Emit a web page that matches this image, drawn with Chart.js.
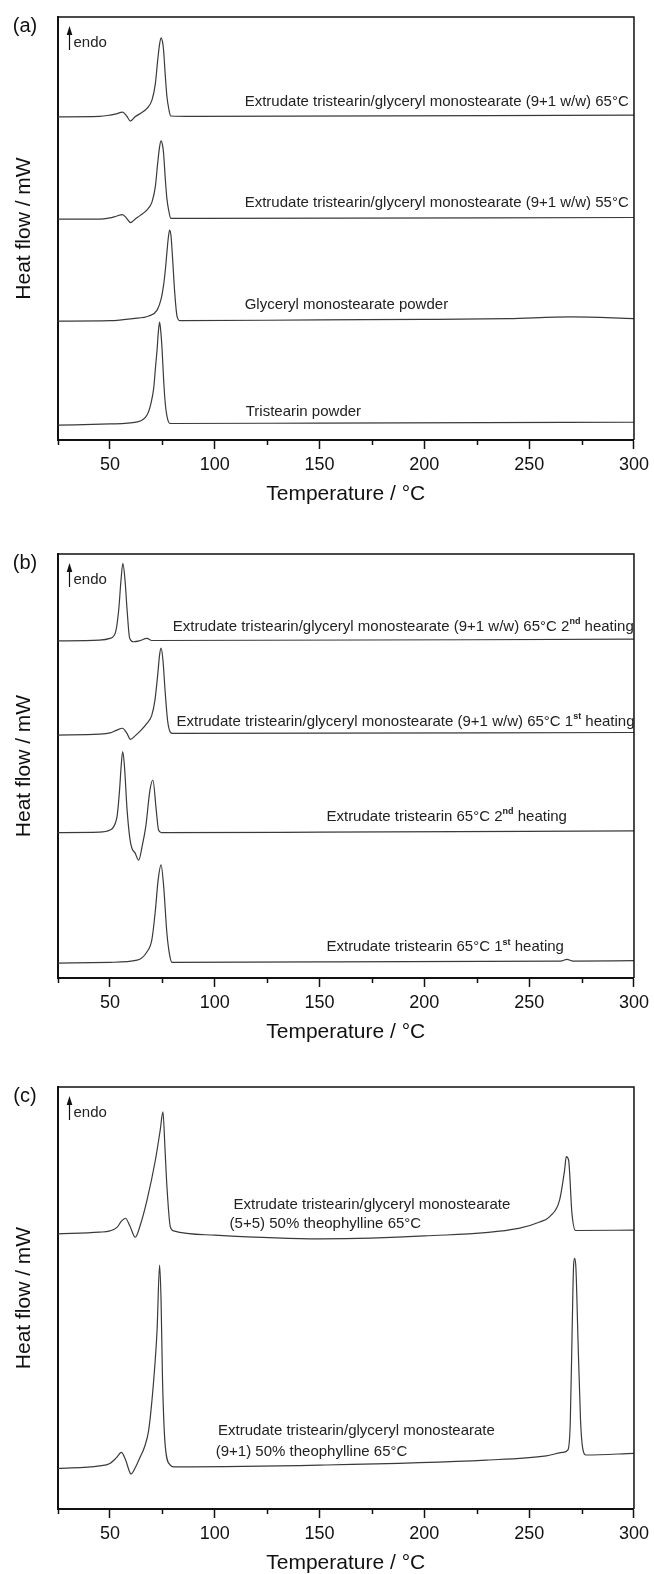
<!DOCTYPE html>
<html>
<head>
<meta charset="utf-8">
<script src="https://cdn.jsdelivr.net/npm/chart.js@4.4.1/dist/chart.umd.min.js"></script>
<style>
  body { margin: 0; background: #fff; }
  #page { position: relative; width: 654px; height: 1574px; overflow: hidden; background: #fff; }
  canvas { position: absolute; left: 0; }
</style>
</head>
<body>
<div id="page">
  <canvas id="chartA" width="654" height="520" style="top:0px"></canvas>
  <canvas id="chartB" width="654" height="521" style="top:537px"></canvas>
  <canvas id="chartC" width="654" height="519" style="top:1070px"></canvas>
</div>
<script>
// tick values (°C)
var tempTicks = [50, 100, 150, 200, 250, 300];
var minorTemps = [25, 75, 125, 175, 225, 275];

// (a) DSC curves, heat flow in arbitrary units
var a1Temp = [25, 45, 50, 53, 56, 58, 59.8, 62, 64.5, 67.7, 70.1, 71.7, 72.8, 73.7, 74.4, 75.1, 75.6, 76.4, 77.2, 78.2, 79, 90, 300];
var a1Flow = [76.4, 76.5, 76.8, 77.1, 77.5, 76.6, 75.4, 76.4, 77.2, 78.4, 80.4, 84.3, 89.8, 93.6, 95.1, 94.1, 92.2, 86.3, 81.2, 78.0, 76.6, 76.5, 76.8];
var a2Temp = [25, 45, 50, 53, 56, 58, 59.8, 62, 64.5, 67.7, 70.1, 71.7, 72.8, 73.7, 74.4, 75.1, 75.6, 76.4, 77.2, 78.2, 79, 90, 300];
var a2Flow = [52.2, 52.2, 52.5, 52.9, 53.3, 52.4, 51.4, 52.2, 53.1, 54.4, 56.3, 60.0, 65.5, 69.3, 70.7, 69.7, 67.8, 61.9, 57.0, 53.9, 52.4, 52.4, 52.6];
var a3Temp = [25, 50, 61, 68.5, 72.5, 74.5, 75.6, 76.5, 77.2, 77.9, 78.5, 79.2, 79.8, 81, 82, 83.5, 150, 200, 240, 270, 300];
var a3Flow = [28.1, 28.2, 28.7, 29.3, 30.7, 33.5, 36.6, 40.5, 44.4, 48.0, 49.6, 48.0, 43.7, 34.3, 29.3, 28.2, 28.4, 28.5, 28.7, 29.1, 28.7];
var a4Temp = [25, 50, 63, 67.7, 69.5, 70.9, 71.8, 72.5, 73.1, 73.7, 74.3, 74.9, 75.6, 76.4, 77.5, 78.8, 150, 300];
var a4Flow = [3.5, 3.8, 4.3, 5.9, 8.5, 12.3, 17.5, 21.3, 25.5, 27.9, 25.5, 21.3, 14.5, 8.7, 5.0, 3.9, 4.0, 4.2];

// (b)
var b1Temp = [25, 45, 50, 52.6, 54.2, 55.3, 56.2, 57.2, 58.2, 59.4, 61.3, 64, 67.7, 70, 300];
var b1Flow = [79.5, 79.7, 80.1, 81.4, 86.8, 93.9, 97.8, 93.9, 86.8, 80.2, 79.3, 79.5, 80.1, 79.6, 79.9];
var b2Temp = [25, 45, 50, 53, 56, 58, 59.8, 62, 65, 67.7, 70, 71.5, 72.8, 73.7, 74.4, 75.3, 76.3, 77.5, 78.8, 80, 300];
var b2Flow = [57.3, 57.5, 57.8, 58.4, 58.9, 57.8, 56.3, 57.1, 58.5, 60.1, 62.0, 65.6, 71.5, 76.2, 77.8, 75.0, 67.9, 60.8, 58.0, 57.7, 57.9];
var b3Temp = [25, 45, 50, 51.8, 53.5, 54.6, 55.4, 56.1, 56.9, 58.2, 59.5, 60.5, 62, 63.7, 65.5, 67.1, 69.1, 70.5, 72.1, 73.2, 74.5, 150, 300];
var b3Flow = [34.3, 34.4, 34.9, 35.7, 38.4, 44.3, 50.2, 53.4, 50.2, 39.6, 33.0, 30.6, 29.5, 27.8, 31.4, 35.7, 44.3, 46.7, 39.6, 34.9, 34.3, 34.4, 34.7];
var b4Temp = [25, 50, 63, 67.7, 70, 71.7, 73, 74.4, 75.6, 77.2, 78.5, 79.6, 150, 265, 268, 271, 300];
var b4Flow = [3.5, 3.7, 4.2, 6.2, 9.0, 16.0, 23.1, 26.7, 21.9, 10.5, 5.4, 3.7, 3.8, 4.0, 4.4, 4.0, 4.1];

// (c)
var c1Temp = [25, 45, 50, 53.5, 55.5, 57.4, 59.5, 62.1, 64.5, 67.7, 71.7, 74, 75.3, 76.3, 77.2, 78.8, 80.4, 100, 150, 200, 245, 255, 259.8, 264.5, 266.9, 267.7, 268.8, 270.4, 272.1, 300];
var c1Flow = [65.2, 65.6, 65.9, 66.8, 68.2, 68.9, 67.1, 64.4, 67.3, 73.2, 82.7, 89.8, 94.1, 85.1, 76.4, 66.9, 65.9, 64.9, 64.0, 64.7, 66.5, 68.0, 69.3, 73.2, 80.3, 83.5, 82.7, 70.1, 66.0, 66.1];
var c2Temp = [25, 45, 50, 53, 55.5, 57.5, 60.1, 62.5, 64.5, 66.5, 68.5, 70.9, 72.5, 73.7, 74.4, 75.1, 76.4, 78.8, 80.4, 150, 229.6, 258.2, 266, 268.5, 269.6, 270.5, 271.2, 271.7, 272.3, 273.3, 274.5, 275.5, 277.2, 300];
var c2Flow = [9.6, 10.2, 10.8, 12.1, 13.4, 11.6, 8.3, 10.2, 12.4, 14.7, 18.7, 30.6, 42.4, 57.8, 49.5, 30.6, 14.9, 10.4, 10.0, 10.4, 11.6, 12.6, 13.4, 14.0, 20.4, 42.4, 57.8, 59.4, 57.1, 40.0, 21.1, 14.5, 12.8, 13.2];

// curve labels, anchored in data coordinates (left edge, middle of text)
var notesA = [
  { x: 114.3, y: 79.9, parts: ['Extrudate tristearin/glyceryl monostearate (9+1 w/w) 65°C'] },
  { x: 114.3, y: 56.0, parts: ['Extrudate tristearin/glyceryl monostearate (9+1 w/w) 55°C'] },
  { x: 114.3, y: 31.9, parts: ['Glyceryl monostearate powder'] },
  { x: 114.8, y: 6.6, parts: ['Tristearin powder'] }
];
var notesB = [
  { x: 80.0, y: 82.9, parts: ['Extrudate tristearin/glyceryl monostearate (9+1 w/w) 65°C 2', '^nd', ' heating'] },
  { x: 81.8, y: 60.5, parts: ['Extrudate tristearin/glyceryl monostearate (9+1 w/w) 65°C 1', '^st', ' heating'] },
  { x: 153.3, y: 38.0, parts: ['Extrudate tristearin 65°C 2', '^nd', ' heating'] },
  { x: 153.3, y: 7.3, parts: ['Extrudate tristearin 65°C 1', '^st', ' heating'] }
];
var notesC = [
  { x: 109.0, y: 72.0, parts: ['Extrudate tristearin/glyceryl monostearate'] },
  { x: 107.1, y: 67.5, parts: ['(5+5) 50% theophylline 65°C'] },
  { x: 101.6, y: 18.5, parts: ['Extrudate tristearin/glyceryl monostearate'] },
  { x: 100.5, y: 13.5, parts: ['(9+1) 50% theophylline 65°C'] }
];

var FONT = '"Liberation Sans", Arial, Helvetica, sans-serif';
Chart.defaults.font.family = FONT;
Chart.defaults.color = '#111';

function pairs(xs, ys) {
  return xs.map(function(t, i) { return { x: t, y: ys[i] }; });
}

var decor = {
  id: 'decor',
  afterDraw: function(chart, args, opts) {
    var ctx = chart.ctx, a = chart.chartArea;
    var xs = chart.scales.x, ys = chart.scales.y;
    ctx.save();
    ctx.strokeStyle = '#111';
    ctx.lineWidth = 1.5;
    ctx.beginPath();
    ctx.moveTo(a.left, a.top);
    ctx.lineTo(a.right, a.top);
    ctx.lineTo(a.right, a.bottom);
    ctx.stroke();

    // minor ticks
    minorTemps.forEach(function(t) {
      var px = Math.round(xs.getPixelForValue(t)) + 0.5;
      ctx.beginPath();
      ctx.moveTo(px, a.bottom);
      ctx.lineTo(px, a.bottom + 5);
      ctx.stroke();
    });

    // panel letter
    ctx.fillStyle = '#111';
    ctx.font = '20px ' + FONT;
    ctx.textAlign = 'center';
    ctx.textBaseline = 'middle';
    ctx.fillText(opts.letter, 25, a.top + 9);

    // endo arrow
    var ax = a.left + 12;
    ctx.lineWidth = 1.2;
    ctx.beginPath();
    ctx.moveTo(ax, a.top + 33);
    ctx.lineTo(ax, a.top + 16);
    ctx.stroke();
    ctx.beginPath();
    ctx.moveTo(ax, a.top + 9);
    ctx.lineTo(ax - 2.8, a.top + 18);
    ctx.lineTo(ax + 2.8, a.top + 18);
    ctx.closePath();
    ctx.fill();
    ctx.font = '15px ' + FONT;
    ctx.textAlign = 'left';
    ctx.fillStyle = '#222';
    ctx.fillText('endo', ax + 4, a.top + 26);

    // curve labels
    ctx.beginPath();
    ctx.rect(a.left, a.top, a.right - a.left, a.bottom - a.top);
    ctx.clip();
    opts.notes.forEach(function(n) {
      var px = xs.getPixelForValue(n.x), py = ys.getPixelForValue(n.y);
      n.parts.forEach(function(p) {
        if (p.charAt(0) === '^') {
          ctx.font = 'bold 9px ' + FONT;
          ctx.fillText(p.slice(1), px, py - 5);
          px += ctx.measureText(p.slice(1)).width;
        } else {
          ctx.font = '15px ' + FONT;
          ctx.fillText(p, px, py);
          px += ctx.measureText(p).width;
        }
      });
    });
    ctx.restore();
  }
};

function makeChart(id, series, notes, letter) {
  var ctx = document.getElementById(id);
  return new Chart(ctx, {
    type: 'line',
    data: {
      datasets: series.map(function(s) {
        return {
          data: s,
          borderColor: '#3a3a3a',
          borderWidth: 1.2,
          pointRadius: 0,
          cubicInterpolationMode: 'monotone',
          fill: false
        };
      })
    },
    options: {
      responsive: false,
      animation: false,
      events: [],
      layout: { padding: { top: 17, right: 19, left: 0, bottom: 0 } },
      plugins: {
        legend: { display: false },
        tooltip: { enabled: false },
        decor: { letter: letter, notes: notes }
      },
      scales: {
        x: {
          type: 'linear',
          min: 25,
          max: 300,
          afterFit: function(scale) { scale.height = 80; },
          afterBuildTicks: function(scale) {
            scale.ticks = tempTicks.map(function(v) { return { value: v }; });
          },
          ticks: { font: { size: 18 }, color: '#111', padding: 5, maxRotation: 0, autoSkip: false },
          grid: { drawOnChartArea: false, tickLength: 9, tickWidth: 1.5, tickColor: '#111' },
          border: { color: '#111', width: 2 },
          title: { display: true, text: 'Temperature / °C', font: { size: 21 }, color: '#111', padding: { top: 0, bottom: 13 } }
        },
        y: {
          min: 0,
          max: 100,
          afterFit: function(scale) { scale.width = 57.5; },
          ticks: { display: false },
          grid: { display: false },
          border: { color: '#111', width: 2 },
          title: { display: true, text: 'Heat flow / mW', font: { size: 21 }, color: '#111', padding: { top: 12, bottom: 0 } }
        }
      }
    },
    plugins: [decor]
  });
}

makeChart('chartA', [pairs(a1Temp, a1Flow), pairs(a2Temp, a2Flow), pairs(a3Temp, a3Flow), pairs(a4Temp, a4Flow)], notesA, '(a)');
makeChart('chartB', [pairs(b1Temp, b1Flow), pairs(b2Temp, b2Flow), pairs(b3Temp, b3Flow), pairs(b4Temp, b4Flow)], notesB, '(b)');
makeChart('chartC', [pairs(c1Temp, c1Flow), pairs(c2Temp, c2Flow)], notesC, '(c)');
</script>
</body>
</html>
